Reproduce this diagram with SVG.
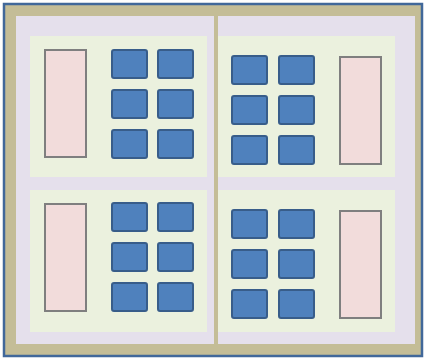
<svg xmlns="http://www.w3.org/2000/svg" width="425" height="360" viewBox="0 0 425 360">
<style>
.frame{fill:#c4bd97;stroke:#41689a;stroke-width:2.5}
.half{fill:#e5e0ec}
.panel{fill:#ebf1de}
.bar{fill:#f2dcdb;stroke:#7f7f7f;stroke-width:2}
.cell{fill:#4f81bd;stroke:#385d8a;stroke-width:2}
</style>
<rect width="425" height="360" fill="#ffffff"/>
<g id="frame">
<rect class="frame" x="4" y="4" width="418" height="352"/>
<rect class="half" x="16" y="16" width="198" height="328"/>
<rect class="half" x="218" y="16" width="197" height="328"/>
</g>
<g id="panel-top-left">
<rect class="panel" x="30" y="36" width="177" height="141"/>
<rect class="bar" x="45" y="50" width="41" height="107"/>
<rect class="cell" x="112" y="50" width="35" height="28" rx="2"/>
<rect class="cell" x="158" y="50" width="35" height="28" rx="2"/>
<rect class="cell" x="112" y="90" width="35" height="28" rx="2"/>
<rect class="cell" x="158" y="90" width="35" height="28" rx="2"/>
<rect class="cell" x="112" y="130" width="35" height="28" rx="2"/>
<rect class="cell" x="158" y="130" width="35" height="28" rx="2"/>
</g>
<g id="panel-top-right">
<rect class="panel" x="218" y="36" width="177" height="141"/>
<rect class="bar" x="340" y="57" width="41" height="107"/>
<rect class="cell" x="232" y="56" width="35" height="28" rx="2"/>
<rect class="cell" x="279" y="56" width="35" height="28" rx="2"/>
<rect class="cell" x="232" y="96" width="35" height="28" rx="2"/>
<rect class="cell" x="279" y="96" width="35" height="28" rx="2"/>
<rect class="cell" x="232" y="136" width="35" height="28" rx="2"/>
<rect class="cell" x="279" y="136" width="35" height="28" rx="2"/>
</g>
<g id="panel-bottom-left">
<rect class="panel" x="30" y="190" width="177" height="142"/>
<rect class="bar" x="45" y="204" width="41" height="107"/>
<rect class="cell" x="112" y="203" width="35" height="28" rx="2"/>
<rect class="cell" x="158" y="203" width="35" height="28" rx="2"/>
<rect class="cell" x="112" y="243" width="35" height="28" rx="2"/>
<rect class="cell" x="158" y="243" width="35" height="28" rx="2"/>
<rect class="cell" x="112" y="283" width="35" height="28" rx="2"/>
<rect class="cell" x="158" y="283" width="35" height="28" rx="2"/>
</g>
<g id="panel-bottom-right">
<rect class="panel" x="218" y="190" width="177" height="142"/>
<rect class="bar" x="340" y="211" width="41" height="107"/>
<rect class="cell" x="232" y="210" width="35" height="28" rx="2"/>
<rect class="cell" x="279" y="210" width="35" height="28" rx="2"/>
<rect class="cell" x="232" y="250" width="35" height="28" rx="2"/>
<rect class="cell" x="279" y="250" width="35" height="28" rx="2"/>
<rect class="cell" x="232" y="290" width="35" height="28" rx="2"/>
<rect class="cell" x="279" y="290" width="35" height="28" rx="2"/>
</g>
<g id="connectors"></g>
</svg>
